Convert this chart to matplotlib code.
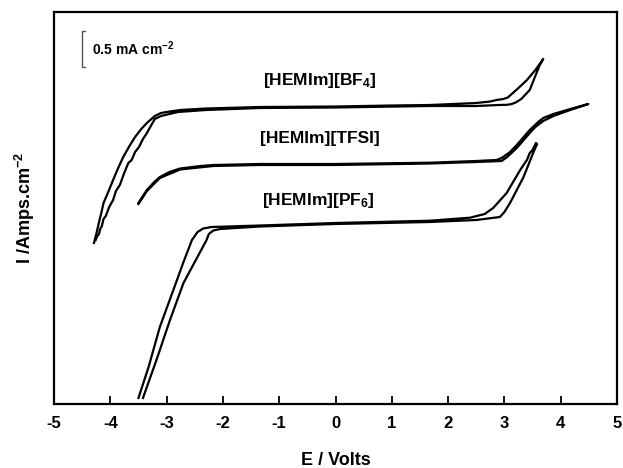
import matplotlib
matplotlib.use("Agg")
import matplotlib.pyplot as plt
import numpy as np

plt.rcParams['font.family'] = ['Liberation Sans', 'DejaVu Sans']
plt.rcParams['font.weight'] = 'bold'
plt.rcParams['mathtext.fontset'] = 'custom'
for k in ['rm', 'it', 'bf', 'sf']:
    plt.rcParams['mathtext.' + k] = 'Liberation Sans:bold'

# pixel-calibrated current scale: 1 mA cm^-2 ~ 72 px, y = (404 - py)/72
def cur(py):
    return (404.0 - np.asarray(py, dtype=float)) / 72.0

# [HEMIm][BF4] cyclic voltammogram (E in V, py = image row)
bf4_E = [-4.29, -4.24, -4.20, -4.16, -4.12, -4.03, -3.95, -3.86, -3.77, -3.66, -3.56, -3.45,
         -3.35, -3.27, -3.21, -3.10, -3.00, -2.76, -2.30, -1.34, 0.00, 1.00, 1.68, 2.50,
         2.75, 2.86, 2.98, 3.06, 3.15, 3.25, 3.40, 3.55, 3.69,
         3.62, 3.45, 3.30, 3.20, 3.13, 3.05, 2.90, 2.50, 1.68, 0.00, -1.34, -2.30, -2.80, -3.10,
         -3.21, -3.29, -3.36, -3.42, -3.49, -3.56, -3.62, -3.68, -3.76, -3.83, -3.90,
         -3.95, -4.02, -4.08, -4.12, -4.15, -4.18, -4.20, -4.23, -4.26]
bf4_py = [243, 232, 222, 213, 203, 191, 180, 168, 157, 146, 137, 129,
          123, 119, 116, 113, 112, 110, 108.5, 107, 106.5, 105.5, 105, 103,
          101.5, 100, 99, 97.5, 93, 88, 80, 70, 59,
          66, 90, 99, 102.5, 104, 104.8, 105, 106, 106, 107.5, 108, 110, 112, 116,
          119, 127, 134, 139, 147, 152, 160, 163, 174, 185, 191,
          200, 207, 216, 219, 226, 229, 234, 236, 240]

# [HEMIm][TFSI]
tfsi_E = [-3.50, -3.42, -3.35, -3.22, -3.12, -2.95, -2.76, -2.40, -2.17, -1.34, 0.00, 1.68,
          2.50, 2.86, 2.95, 3.10, 3.22, 3.45, 3.60, 3.69, 3.87, 4.17, 4.49,
          4.17, 3.87, 3.69, 3.55, 3.45, 3.22, 3.05, 2.95, 2.50, 1.68, 0.00, -1.34, -2.17,
          -2.76, -3.12, -3.35, -3.50]
tfsi_py = [203, 196, 190, 182, 177, 172, 168.5, 166, 165, 164, 164, 162.7,
           161, 160, 158, 152, 145, 130, 122, 118, 114, 109, 104,
           110, 116, 121, 127, 133, 148, 157, 161, 162, 163.5, 165, 165, 166,
           169.5, 178, 191, 204]

# [HEMIm][PF6]
pf6_E = [-3.50, -3.32, -3.12, -2.88, -2.70, -2.55, -2.45, -2.35, -2.20, -1.34, 0.00, 1.68,
         2.39, 2.65, 2.80, 3.04, 3.28, 3.40, 3.45, 3.50, 3.56,
         3.58, 3.51, 3.34, 3.10, 3.00, 2.92, 2.50, 1.68, 0.00, -1.34, -2.05, -2.17, -2.25, -2.29,
         -2.50, -2.70, -2.94, -3.18, -3.42]
pf6_py = [398, 367, 327, 290, 262, 240, 232, 228.5, 227, 225.5, 223, 220.7,
          217.7, 214, 208, 193, 170, 160, 153, 150, 143,
          144, 153, 177, 203, 212, 217, 220, 222, 224, 226.5, 229, 230.5, 234, 240,
          262, 283, 320, 360, 398]

labels = ['[HEMIm][BF$_4$]', '[HEMIm][TFSI]', '[HEMIm][PF$_6$]']
label_E = [-0.28, -0.28, -0.30]
label_py = [81, 139, 200]

xticks = [-5, -4, -3, -2, -1, 0, 1, 2, 3, 4, 5]

fig = plt.figure(figsize=(6.23, 4.68), dpi=100)
ax = fig.add_axes([54/623, (468-404)/468, (617-54)/623, (404-12)/468])

for E, py in [(bf4_E, bf4_py), (tfsi_E, tfsi_py), (pf6_E, pf6_py)]:
    ax.plot(E, cur(py), color='black', lw=1.6, solid_joinstyle='round')

for t, e, p in zip(labels, label_E, label_py):
    ax.text(e, cur(p), t, ha='center', va='center', fontsize=12.5, fontweight='bold')

# scale bar 0.5 mA cm^-2
sb_x = -4.50
sb_y0 = cur(67)
ax.plot([sb_x + 0.05, sb_x, sb_x, sb_x + 0.05], [sb_y0, sb_y0, sb_y0 + 0.5, sb_y0 + 0.5],
        color='#555555', lw=1.0)
ax.text(-4.33, sb_y0 + 0.25, '0.5 mA cm$^{-2}$', ha='left', va='center',
        fontsize=10, fontweight='bold')

ax.set_xlim(-5, 5)
ax.set_ylim(0, 392/72)
ax.set_xticks(xticks)
ax.set_xticklabels([str(v) for v in xticks])
ax.set_yticks([])
ax.tick_params(axis='x', direction='in', length=6, width=1.3, labelsize=12, pad=9)
for lab in ax.get_xticklabels():
    lab.set_fontweight('bold')
for s in ax.spines.values():
    s.set_linewidth(1.6)

ax.set_xlabel('E / Volts', fontsize=13, fontweight='bold', labelpad=15)
ax.set_ylabel('I /Amps.cm$^{-2}$', fontsize=13, fontweight='bold', labelpad=12)

fig.savefig('out.png', dpi=100)
